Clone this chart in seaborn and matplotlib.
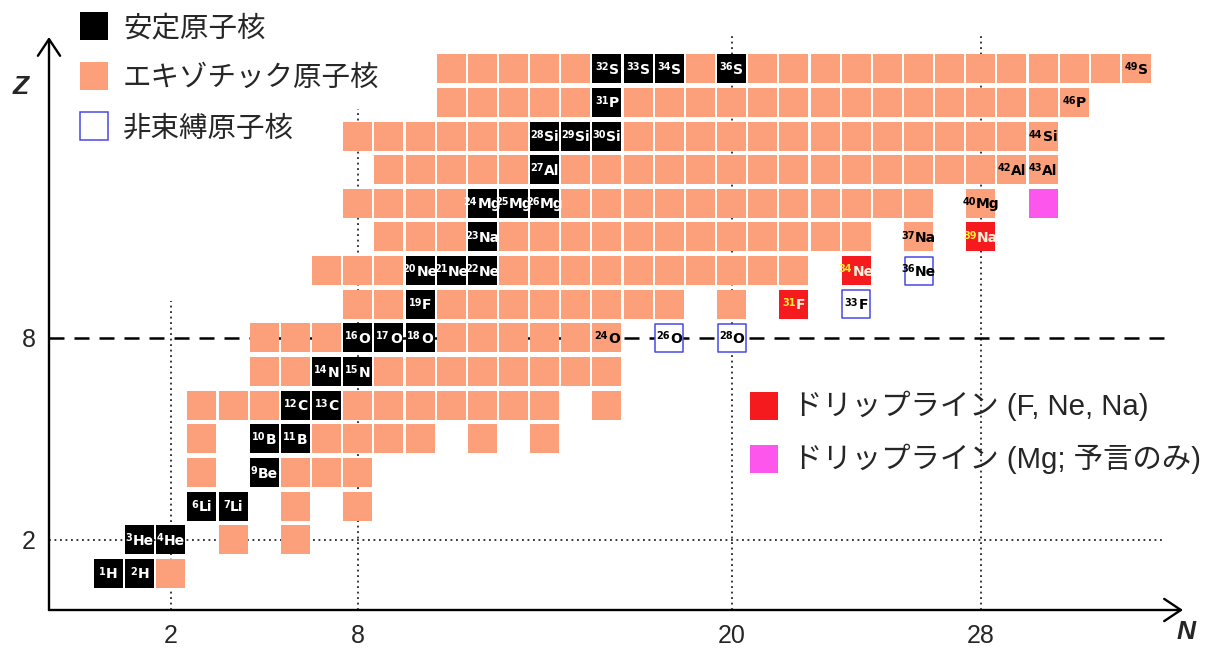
import matplotlib
matplotlib.use("Agg")
import matplotlib.pyplot as plt
from matplotlib import transforms
from matplotlib.patches import Rectangle
import pandas as pd
import seaborn as sns

# ---------------------------------------------------------------- data
SYMBOLS = ["H", "He", "Li", "Be", "B", "C", "N", "O",
           "F", "Ne", "Na", "Mg", "Al", "Si", "P", "S"]          # Z = 1 .. 16

# neutron numbers N of each nucleus, keyed by proton number Z
STABLE = {
    1: [0, 1], 2: [1, 2], 3: [3, 4], 4: [5], 5: [5, 6], 6: [6, 7],
    7: [7, 8], 8: [8, 9, 10], 9: [10], 10: [10, 11, 12], 11: [12],
    12: [12, 13, 14], 13: [14], 14: [14, 15, 16], 15: [16],
    16: [16, 17, 18, 20],
}
EXOTIC = {
    1: [2],
    2: [4, 6],
    3: [6, 8],
    4: [3, 6, 7, 8],
    5: [3, 7, 8, 9, 10, 12, 14],
    6: [3, 4, 5, 8, 9, 10, 11, 12, 13, 14, 16],
    7: [5, 6, 9, 10, 11, 12, 13, 14, 15, 16],
    8: [5, 6, 7, 11, 12, 13, 14, 15, 16],
    9: [8, 9, 11, 12, 13, 14, 15, 16, 17, 18, 20],
    10: [7, 8, 9, 13, 14, 15, 16, 17, 18, 19, 20, 21, 22],
    11: [9, 10, 11, 13, 14, 15, 16, 17, 18, 19, 20, 21, 22, 23, 24, 26],
    12: [8, 9, 10, 11, 15, 16, 17, 18, 19, 20, 21, 22, 23, 24, 25, 26, 28],
    13: [9, 10, 11, 12, 13, 15, 16, 17, 18, 19, 20, 21, 22, 23, 24, 25,
         26, 27, 28, 29, 30],
    14: [8, 9, 10, 11, 12, 13, 17, 18, 19, 20, 21, 22, 23, 24, 25, 26,
         27, 28, 29, 30],
    15: [11, 12, 13, 14, 15, 17, 18, 19, 20, 21, 22, 23, 24, 25, 26, 27,
         28, 29, 30, 31],
    16: [11, 12, 13, 14, 15, 19, 21, 22, 23, 24, 25, 26, 27, 28, 29, 30,
         31, 32, 33],
}
UNBOUND = {8: [18, 20], 9: [24], 10: [26]}
DRIPLINE = {9: [22], 10: [24], 11: [28]}
DRIPLINE_PREDICTED = {12: [30]}
# exotic nuclei that carry a name tag
NAMED_EXOTIC = {8: [16], 11: [26], 12: [28], 13: [29, 30], 14: [30],
                15: [31], 16: [33]}

MAGIC_N = [2, 8, 20, 28]
MAGIC_Z = [2, 8]

LEGEND_TOP = ["安定原子核", "エキゾチック原子核", "非束縛原子核"]
LEGEND_BOTTOM = ["ドリップライン (F, Ne, Na)", "ドリップライン (Mg; 予言のみ)"]

# ---------------------------------------------------------------- style
BLACK = "#000000"
SALMON = "#FCA07C"
RED = "#F41A1E"
MAGENTA = "#FC56EC"
BLUE = "#4848E4"
SUP_YELLOW = "#FFEE30"
SYM_PALE = "#F6F2DC"

W, H, DPI = 1212, 648, 100
BOX_PT = 29 * 72 / DPI          # side of one nucleus box in points

sns.set_theme(style="white")
plt.rcParams["font.family"] = ["Liberation Sans", "Noto Sans CJK JP", "DejaVu Sans"]

fig = plt.figure(figsize=(W / DPI, H / DPI), dpi=DPI)
ax = fig.add_axes([0, 0, 1, 1])


def frac(px, py):
    """pixel position -> axes fraction (axes cover the whole figure)"""
    return px / W, 1 - py / H


def table_to_rows(table, kind):
    return [(n, z, kind) for z, ns in table.items() for n in ns]


filled = pd.DataFrame(
    table_to_rows(STABLE, "stable") + table_to_rows(EXOTIC, "exotic")
    + table_to_rows(DRIPLINE, "drip") + table_to_rows(DRIPLINE_PREDICTED, "pred"),
    columns=["N", "Z", "kind"])
unbound = pd.DataFrame(table_to_rows(UNBOUND, "unbound"), columns=["N", "Z", "kind"])

sns.scatterplot(data=filled, x="N", y="Z", hue="kind",
                palette={"stable": BLACK, "exotic": SALMON, "drip": RED, "pred": MAGENTA},
                marker="s", s=BOX_PT ** 2, linewidth=0, legend=False,
                ax=ax, zorder=3)
sns.scatterplot(data=unbound, x="N", y="Z", marker="s",
                s=(BOX_PT - 1.1) ** 2, color="white", edgecolor=BLUE,
                linewidth=1.1, legend=False, ax=ax, zorder=3)

ax.set_xlim(-3.483, 35.42)
ax.set_ylim(-1.214, 18.043)
ax.axis("off")

# ---------------------------------------------------------------- magic-number guide lines
axis_n, axis_z = -1.91, -0.085
line_tops = {2: 9.1, 8: 14.8, 20: 17.0, 28: 17.0}
for n in MAGIC_N:
    ax.plot([n, n], [axis_z, line_tops[n]], color="black", lw=1.1,
            ls=(0, (1.2, 2.4)), zorder=1)
ax.plot([axis_n, 33.92], [MAGIC_Z[0]] * 2, color="black", lw=1.1,
        ls=(0, (1.2, 2.4)), zorder=1)
ax.plot([axis_n, 34.08], [MAGIC_Z[1]] * 2, color="black", lw=1.8,
        ls=(0, (6.0, 4.0)), zorder=1)

# ---------------------------------------------------------------- axes arrows
corner = frac(49, 610)
arrow_kw = dict(arrowstyle="->,head_length=0.6,head_width=0.4", lw=1.7,
                color="black", shrinkA=0, shrinkB=0, mutation_scale=20)
ax.annotate("", xy=frac(49, 37), xytext=corner, xycoords="axes fraction",
            textcoords="axes fraction", arrowprops=arrow_kw, zorder=5)
ax.annotate("", xy=frac(1183, 610), xytext=corner, xycoords="axes fraction",
            textcoords="axes fraction", arrowprops=arrow_kw, zorder=5)
ax.text(*frac(21, 87), "Z", transform=ax.transAxes, fontsize=19,
        fontweight="bold", fontstyle="italic", ha="center", va="center")
ax.text(*frac(1186, 632), "N", transform=ax.transAxes, fontsize=19,
        fontweight="bold", fontstyle="italic", ha="center", va="center")

# tick labels at the magic numbers
xlab_tr = transforms.blended_transform_factory(ax.transData, ax.transAxes)
for n in MAGIC_N:
    ax.text(n, (H - 643) / H, str(n), transform=xlab_tr, fontsize=18,
            ha="center", va="baseline")
ylab_tr = transforms.offset_copy(
    transforms.blended_transform_factory(ax.transAxes, ax.transData),
    fig=fig, y=-6.5, units="points")
for z in MAGIC_Z:
    ax.text(29 / W, z, str(z), transform=ylab_tr, fontsize=18,
            ha="center", va="baseline")

# ---------------------------------------------------------------- nucleus names
renderer = fig.canvas.get_renderer()
SUP_FS, SYM_FS = 7.0, 10.0
GAP_PT = 0.1


def text_width_pt(s, size):
    t = ax.text(0, 0, s, fontsize=size, fontweight="bold", family="DejaVu Sans")
    w = t.get_window_extent(renderer).width * 72 / DPI
    t.remove()
    return w


def nucleus_name(n, z, sup_color, sym_color):
    mass, sym = str(n + z), SYMBOLS[z - 1]
    w_sup = text_width_pt(mass, SUP_FS)
    w_sym = text_width_pt(sym, SYM_FS)
    left = -(w_sup + GAP_PT + w_sym) / 2
    ax.text(n, z, mass, fontsize=SUP_FS, fontweight="bold", family="DejaVu Sans",
            color=sup_color, ha="left", va="baseline", zorder=6,
            transform=transforms.offset_copy(ax.transData, fig=fig,
                                             x=left, y=-1.1, units="points"))
    ax.text(n, z, sym, fontsize=SYM_FS, fontweight="bold", family="DejaVu Sans",
            color=sym_color, ha="left", va="baseline", zorder=6,
            transform=transforms.offset_copy(ax.transData, fig=fig,
                                             x=left + w_sup + GAP_PT, y=-3.6,
                                             units="points"))


for z, ns in STABLE.items():
    for n in ns:
        nucleus_name(n, z, "white", "white")
for table in (NAMED_EXOTIC, UNBOUND):
    for z, ns in table.items():
        for n in ns:
            nucleus_name(n, z, "black", "black")
for z, ns in DRIPLINE.items():
    for n in ns:
        nucleus_name(n, z, SUP_YELLOW, SYM_PALE)

# ---------------------------------------------------------------- legends
def legend_entry(px, py, face, edge, text, size, text_x, text_dy=14):
    x0, y0 = frac(px, py + 28)
    ax.add_patch(Rectangle((x0, y0), 28 / W, 28 / H, transform=ax.transAxes,
                           facecolor=face, edgecolor=edge,
                           linewidth=1.1 if edge != "none" else 0, zorder=5))
    ax.text(*frac(text_x, py + text_dy), text, transform=ax.transAxes,
            fontsize=size, ha="left", va="center", zorder=5)


legend_entry(80, 12, BLACK, "none", LEGEND_TOP[0], 20.5, 123, 17)
legend_entry(80, 62, SALMON, "none", LEGEND_TOP[1], 20.5, 123, 17)
legend_entry(80, 112, "white", BLUE, LEGEND_TOP[2], 20.5, 123, 17)
legend_entry(750, 392, RED, "none", LEGEND_BOTTOM[0], 21.2, 793)
legend_entry(750, 445, MAGENTA, "none", LEGEND_BOTTOM[1], 21.2, 793)

fig.savefig("out.png", dpi=DPI)
